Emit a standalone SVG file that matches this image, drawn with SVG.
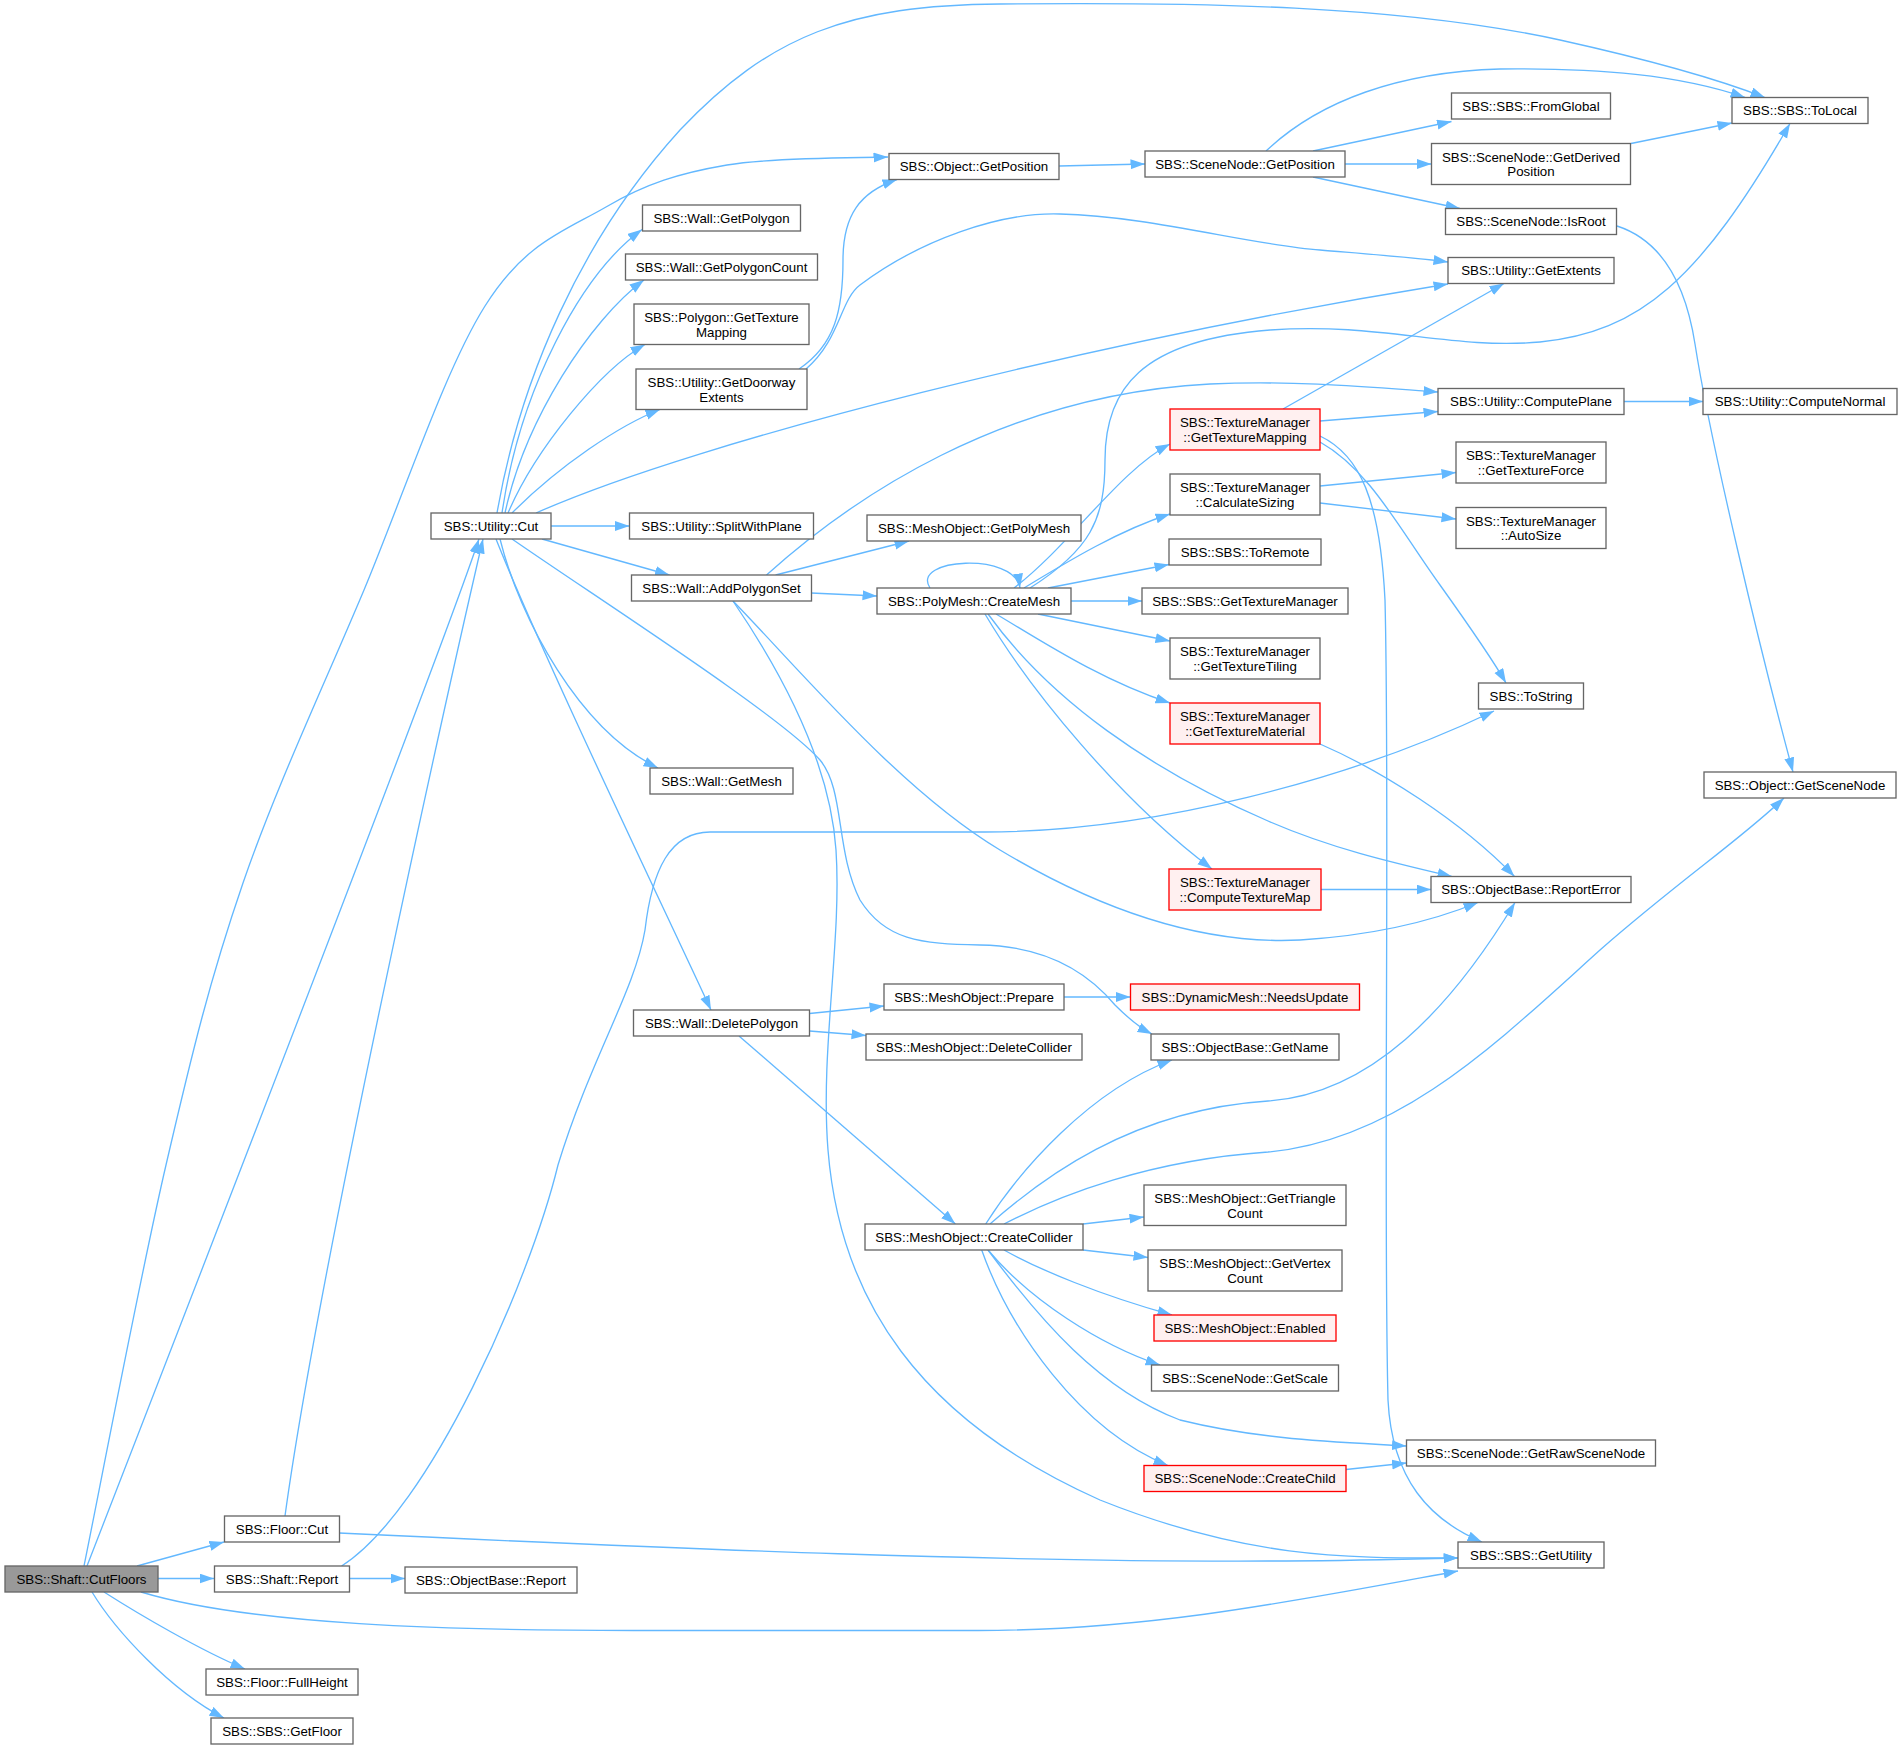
<svg xmlns="http://www.w3.org/2000/svg" width="1902" height="1749" viewBox="0 0 1902 1749">
<style>
.node rect{fill:#ffffff;stroke:#666666;stroke-width:1.33}
.node.red rect{fill:#fff0f0;stroke:#ff0000}
.node.root rect{fill:#999999;stroke:#666666}
.node text{font-family:"Liberation Sans",Arial,Helvetica,sans-serif;font-size:13.3px;text-anchor:middle;fill:#000000}
#edges path{fill:none;stroke:#63b8ff;stroke-width:1.33;marker-end:url(#arr)}
</style>
<defs>
<marker id="arr" markerUnits="userSpaceOnUse" markerWidth="15" markerHeight="11" refX="14.5" refY="5" orient="auto"><path d="M0,0 L14.5,5 L0,10 Z" fill="#63b8ff"/></marker>
</defs>
<rect x="0" y="0" width="1902" height="1749" fill="#ffffff"/>
<g id="edges">
<path d="M87,1566 C200,1275 440,655 479,539"/>
<path d="M285,1516 C320,1260 455,660 483,539"/>
<path d="M84,1566 C97.7,1499 139.5,1279 166,1165 C192.5,1051 210,979 243,883 C276,787 323.7,686 364,590 C404,494 444.7,370 485,306 C525,242 565.7,230.5 606,207 C646,183.5 680,173 727,165 C774,157 861,158 888,157"/>
<path d="M137,1566 L224,1542"/>
<path d="M158,1578.5 L214,1578.5"/>
<path d="M141,1592 C250,1625 450,1630.5 634,1630.5 L978,1630.5 C1150,1630.5 1300,1600 1458,1571"/>
<path d="M104,1592 C140,1615 200,1650 245,1669"/>
<path d="M92,1592 C115,1630 170,1690 224,1718"/>
<path d="M349,1578.5 L405,1578.5"/>
<path d="M341.6,1566 C430,1510 530,1280 558,1165 C590,1060 635,990 645,930 C652,870 670,832 710,832 L985,832 C1150,832 1350,780 1494,711"/>
<path d="M497,513 C520,380 580,240 680,130 C770,35 850,5 1000,4 C1200,2 1400,5 1560,40 C1650,60 1720,80 1765,97.5"/>
<path d="M502,513 C520,390 580,275 642,229.5"/>
<path d="M505,513 C525,420 590,320 644,280"/>
<path d="M508,513 C535,450 600,370 645,344.5"/>
<path d="M512,513 C560,465 620,425 660,409.5"/>
<path d="M536,513 C700,440 1100,340 1448,284"/>
<path d="M551,526 L629.5,526"/>
<path d="M542,539 L669.5,575"/>
<path d="M500,539 C520,620 580,730 658,768"/>
<path d="M496,539 C540,650 660,900 711,1010"/>
<path d="M512,539 C600,600 780,715 820,760 C845,790 835,850 860,900 C885,940 920,944 980,945 C1050,946 1090,975 1115,1005 C1130,1020 1140,1028 1152,1034"/>
<path d="M775.6,575 L909,541"/>
<path d="M811,593 L877,596"/>
<path d="M766.5,575 C850,500 1000,395 1210,384 C1300,380 1380,388 1438,392"/>
<path d="M733,601 C800,670 900,790 1000,850 C1100,910 1200,945 1300,940 C1380,935 1440,918 1478,902.5"/>
<path d="M733,601 C780,670 830,760 836,850 C842,940 820,1050 828,1150 C840,1300 920,1420 1100,1500 C1250,1560 1350,1558 1458,1558"/>
<path d="M339,1533 C700,1550 1000,1562 1268,1561 C1350,1561 1410,1559 1458,1558"/>
<path d="M930,588 C910,558 1015,552 1020,588"/>
<path d="M1014,588 C1070,545 1120,470 1170,444"/>
<path d="M1024,588 C1070,560 1120,530 1170,514"/>
<path d="M1030,588 C1090,550 1105,520 1105,460 C1105,390 1140,340 1270,330 C1380,322 1450,350 1540,342 C1640,332 1700,280 1790,123.5"/>
<path d="M1048,588 L1169,564.5"/>
<path d="M1071,601 L1142,601"/>
<path d="M1038,614 L1170,641"/>
<path d="M996,614 C1040,640 1100,680 1170,703"/>
<path d="M985,614 C1030,690 1120,800 1212,869"/>
<path d="M988,614 C1050,700 1150,770 1268,821 C1330,848 1390,862 1452,876.5"/>
<path d="M1059,166 L1145,164"/>
<path d="M1266,151 C1320,100 1400,72 1500,69 C1600,68 1680,75 1745,97.5"/>
<path d="M1313,151 L1451.5,121.5"/>
<path d="M1345,164 L1431.5,164"/>
<path d="M1313,177 L1460,208.5"/>
<path d="M1631,143.5 L1732,123"/>
<path d="M1617,226 C1660,240 1685,280 1695,344 C1710,440 1760,650 1793,772"/>
<path d="M799,369 C835,345 843,310 843,260 C843,215 860,192 897,179.5"/>
<path d="M806,369 C840,340 840,300 860,285 C920,240 1000,212 1060,214 C1150,216 1250,245 1320,250 C1380,255 1420,258 1448,262"/>
<path d="M1283,409 L1504,283.5"/>
<path d="M1320,421 L1438,411.5"/>
<path d="M1320,442 C1370,470 1400,530 1440,585 C1465,620 1490,655 1506,683"/>
<path d="M1320,436 C1360,455 1380,500 1385,600 C1390,800 1383,1200 1388,1400 C1392,1480 1430,1520 1482,1542"/>
<path d="M1320,486 L1456,472.5"/>
<path d="M1320,503 L1456,519"/>
<path d="M1624,401.5 L1703,401.5"/>
<path d="M1320,744 C1380,770 1460,820 1514.5,876.5"/>
<path d="M1321,889.5 L1431,889.5"/>
<path d="M809.5,1013.5 L884,1006"/>
<path d="M809.5,1031 L866,1035.5"/>
<path d="M739,1036 L955.4,1224"/>
<path d="M1064,997 L1130.5,997"/>
<path d="M985.7,1224 C1020,1170 1090,1090 1172,1060"/>
<path d="M990,1224 C1040,1180 1130,1110 1268,1101 C1370,1094 1450,1010 1515,902.5"/>
<path d="M1004,1224 C1060,1195 1150,1160 1268,1152 C1400,1140 1500,1040 1600,950 C1680,880 1740,840 1784,798"/>
<path d="M1083,1224 L1144,1217"/>
<path d="M1083,1250 L1148,1257.5"/>
<path d="M1004,1250 C1040,1270 1100,1295 1172,1315"/>
<path d="M988,1250 C1030,1300 1100,1345 1160,1365"/>
<path d="M988,1250 C1040,1320 1100,1390 1180,1420 C1260,1440 1340,1442 1406.5,1446"/>
<path d="M981.7,1250 C1010,1330 1080,1430 1168,1465.5"/>
<path d="M1346,1469.5 L1406.5,1463"/>
</g>
<g id="n0" class="node root"><rect x="5" y="1566" width="153" height="26"/><text x="81.5" y="1583.5">SBS::Shaft::CutFloors</text></g>
<g id="n1" class="node"><rect x="224.5" y="1516" width="115" height="26"/><text x="282" y="1533.5">SBS::Floor::Cut</text></g>
<g id="n2" class="node"><rect x="214.5" y="1566" width="135" height="26"/><text x="282" y="1583.5">SBS::Shaft::Report</text></g>
<g id="n3" class="node"><rect x="405" y="1567" width="172" height="26"/><text x="491" y="1584.5">SBS::ObjectBase::Report</text></g>
<g id="n4" class="node"><rect x="206" y="1669" width="152" height="26"/><text x="282" y="1686.5">SBS::Floor::FullHeight</text></g>
<g id="n5" class="node"><rect x="211" y="1718" width="142" height="26"/><text x="282" y="1735.5">SBS::SBS::GetFloor</text></g>
<g id="n6" class="node"><rect x="431" y="513" width="120" height="26"/><text x="491" y="530.5">SBS::Utility::Cut</text></g>
<g id="n7" class="node"><rect x="642.5" y="205" width="158" height="26"/><text x="721.5" y="222.5">SBS::Wall::GetPolygon</text></g>
<g id="n8" class="node"><rect x="625.5" y="254" width="192" height="26"/><text x="721.5" y="271.5">SBS::Wall::GetPolygonCount</text></g>
<g id="n9" class="node"><rect x="634" y="304" width="175" height="40.5"/><text x="721.5" y="322">SBS::Polygon::GetTexture</text><text x="721.5" y="336.5">Mapping</text></g>
<g id="n10" class="node"><rect x="636" y="369" width="171" height="40.5"/><text x="721.5" y="387">SBS::Utility::GetDoorway</text><text x="721.5" y="401.5">Extents</text></g>
<g id="n11" class="node"><rect x="629.5" y="513" width="184" height="26"/><text x="721.5" y="530.5">SBS::Utility::SplitWithPlane</text></g>
<g id="n12" class="node"><rect x="631.5" y="575" width="180" height="26"/><text x="721.5" y="592.5">SBS::Wall::AddPolygonSet</text></g>
<g id="n13" class="node"><rect x="650" y="768" width="143" height="26"/><text x="721.5" y="785.5">SBS::Wall::GetMesh</text></g>
<g id="n14" class="node"><rect x="633.5" y="1010" width="176" height="26"/><text x="721.5" y="1027.5">SBS::Wall::DeletePolygon</text></g>
<g id="n15" class="node"><rect x="889" y="153.5" width="170" height="26"/><text x="974" y="171">SBS::Object::GetPosition</text></g>
<g id="n16" class="node"><rect x="867" y="515" width="214" height="26"/><text x="974" y="532.5">SBS::MeshObject::GetPolyMesh</text></g>
<g id="n17" class="node"><rect x="877" y="588" width="194" height="26"/><text x="974" y="605.5">SBS::PolyMesh::CreateMesh</text></g>
<g id="n18" class="node"><rect x="884" y="984" width="180" height="26"/><text x="974" y="1001.5">SBS::MeshObject::Prepare</text></g>
<g id="n19" class="node"><rect x="866" y="1034" width="216" height="26"/><text x="974" y="1051.5">SBS::MeshObject::DeleteCollider</text></g>
<g id="n20" class="node"><rect x="865" y="1224" width="218" height="26"/><text x="974" y="1241.5">SBS::MeshObject::CreateCollider</text></g>
<g id="n21" class="node"><rect x="1145" y="151" width="200" height="26"/><text x="1245" y="168.5">SBS::SceneNode::GetPosition</text></g>
<g id="n22" class="node red"><rect x="1170" y="409" width="150" height="41"/><text x="1245" y="427">SBS::TextureManager</text><text x="1245" y="441.5">::GetTextureMapping</text></g>
<g id="n23" class="node"><rect x="1170" y="474" width="150" height="41"/><text x="1245" y="492">SBS::TextureManager</text><text x="1245" y="506.5">::CalculateSizing</text></g>
<g id="n24" class="node"><rect x="1169" y="539" width="152" height="26"/><text x="1245" y="556.5">SBS::SBS::ToRemote</text></g>
<g id="n25" class="node"><rect x="1142" y="588" width="206" height="26"/><text x="1245" y="605.5">SBS::SBS::GetTextureManager</text></g>
<g id="n26" class="node"><rect x="1170" y="638" width="150" height="41"/><text x="1245" y="656">SBS::TextureManager</text><text x="1245" y="670.5">::GetTextureTiling</text></g>
<g id="n27" class="node red"><rect x="1170" y="703" width="150" height="41"/><text x="1245" y="721">SBS::TextureManager</text><text x="1245" y="735.5">::GetTextureMaterial</text></g>
<g id="n28" class="node red"><rect x="1169" y="869" width="152" height="41"/><text x="1245" y="887">SBS::TextureManager</text><text x="1245" y="901.5">::ComputeTextureMap</text></g>
<g id="n29" class="node red"><rect x="1130.5" y="984" width="229" height="26"/><text x="1245" y="1001.5">SBS::DynamicMesh::NeedsUpdate</text></g>
<g id="n30" class="node"><rect x="1151" y="1034" width="188" height="26"/><text x="1245" y="1051.5">SBS::ObjectBase::GetName</text></g>
<g id="n31" class="node"><rect x="1144" y="1185" width="202" height="40.5"/><text x="1245" y="1203">SBS::MeshObject::GetTriangle</text><text x="1245" y="1217.5">Count</text></g>
<g id="n32" class="node"><rect x="1148" y="1250" width="194" height="41"/><text x="1245" y="1268">SBS::MeshObject::GetVertex</text><text x="1245" y="1282.5">Count</text></g>
<g id="n33" class="node red"><rect x="1154" y="1315" width="182" height="26"/><text x="1245" y="1332.5">SBS::MeshObject::Enabled</text></g>
<g id="n34" class="node"><rect x="1151.5" y="1365" width="187" height="26"/><text x="1245" y="1382.5">SBS::SceneNode::GetScale</text></g>
<g id="n35" class="node red"><rect x="1144" y="1465.5" width="202" height="26"/><text x="1245" y="1483">SBS::SceneNode::CreateChild</text></g>
<g id="n36" class="node"><rect x="1451.5" y="93" width="159" height="26"/><text x="1531" y="110.5">SBS::SBS::FromGlobal</text></g>
<g id="n37" class="node"><rect x="1431.5" y="143.5" width="199" height="41"/><text x="1531" y="161.5">SBS::SceneNode::GetDerived</text><text x="1531" y="176">Position</text></g>
<g id="n38" class="node"><rect x="1445.5" y="208.5" width="171" height="26"/><text x="1531" y="226">SBS::SceneNode::IsRoot</text></g>
<g id="n39" class="node"><rect x="1448" y="257.5" width="166" height="26"/><text x="1531" y="275">SBS::Utility::GetExtents</text></g>
<g id="n40" class="node"><rect x="1438" y="388.5" width="186" height="26"/><text x="1531" y="406">SBS::Utility::ComputePlane</text></g>
<g id="n41" class="node"><rect x="1456" y="442" width="150" height="41"/><text x="1531" y="460">SBS::TextureManager</text><text x="1531" y="474.5">::GetTextureForce</text></g>
<g id="n42" class="node"><rect x="1456" y="507.5" width="150" height="41"/><text x="1531" y="525.5">SBS::TextureManager</text><text x="1531" y="540">::AutoSize</text></g>
<g id="n43" class="node"><rect x="1478.5" y="683" width="105" height="26"/><text x="1531" y="700.5">SBS::ToString</text></g>
<g id="n44" class="node"><rect x="1431" y="876.5" width="200" height="26"/><text x="1531" y="894">SBS::ObjectBase::ReportError</text></g>
<g id="n45" class="node"><rect x="1406.5" y="1440" width="249" height="26"/><text x="1531" y="1457.5">SBS::SceneNode::GetRawSceneNode</text></g>
<g id="n46" class="node"><rect x="1458" y="1542" width="146" height="26"/><text x="1531" y="1559.5">SBS::SBS::GetUtility</text></g>
<g id="n47" class="node"><rect x="1732" y="97.5" width="136" height="26"/><text x="1800" y="115">SBS::SBS::ToLocal</text></g>
<g id="n48" class="node"><rect x="1703" y="388.5" width="194" height="26"/><text x="1800" y="406">SBS::Utility::ComputeNormal</text></g>
<g id="n49" class="node"><rect x="1704" y="772" width="192" height="26"/><text x="1800" y="789.5">SBS::Object::GetSceneNode</text></g>
</svg>
